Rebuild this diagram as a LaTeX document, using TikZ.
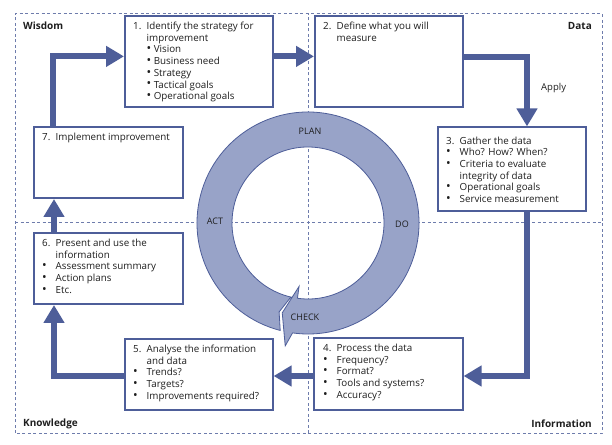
\documentclass[tikz,border=0pt]{standalone}
\usepackage{fontspec}
\setmainfont{Open Sans}
\usepackage{tikz}
\usetikzlibrary{calc}
\usetikzlibrary{positioning}
\usetikzlibrary{arrows.meta}

\definecolor{flowblue}{RGB}{78,94,153}
\definecolor{ringblue}{RGB}{152,163,200}
\definecolor{dashblue}{RGB}{110,124,172}
\definecolor{txtgray}{RGB}{30,30,30}

\newcommand{\itm}[2]{\makebox[13.5pt][l]{#1}#2}
\newcommand{\bul}{\raisebox{0.2pt}{\scalebox{1.25}{\textbullet}}}

\begin{document}
\begin{tikzpicture}[x=1pt,y=1pt,
    stepbox/.style={draw=flowblue,line width=1.6pt,fill=white,anchor=south west,inner sep=0pt},
    boxtext/.style={anchor=north west,align=left,inner sep=0pt,text=txtgray,font=\fontsize{9.8}{11.7}\selectfont},
    flow/.style={draw=flowblue,line width=6pt,-{Triangle[length=18pt,width=20pt]}},
    quad/.style={inner sep=0pt,text=txtgray,font=\fontsize{10}{12}\selectfont\bfseries},
    ringlabel/.style={inner sep=0pt,text=txtgray,font=\fontsize{9}{10}\selectfont},
    quadline/.style={draw=dashblue,line width=1pt,dash pattern=on 3pt off 2.5pt}]
      \useasboundingbox (0,0) rectangle (612,444);

      % quadrants
      \draw[quadline] (15,11) rectangle (602,430);
      \draw[quadline] (308,11) -- (308,430);
      \draw[quadline] (15,221) -- (602,221);
      \node[quad,anchor=west] (wisdom) at (23,418) {Wisdom};
      \node[quad,anchor=east] (data) at (592,418) {Data};
      \node[quad,anchor=west] (knowledge) at (23,20) {Knowledge};
      \node[quad,anchor=east] (information) at (592,20) {Information};

      % PDCA ring
      \begin{scope}[shift={(308,221)}]
        \filldraw[fill=ringblue,draw=flowblue,line width=0.8pt]
          (257:76) -- (252:93.5) -- (255.5:111)
          arc[start angle=255.5,end angle=-98,radius=111pt]
          -- (-100.5:125) -- (-106:93.5) -- (-98:64) -- (-98:76)
          arc[start angle=-98,end angle=257,radius=76pt] -- cycle;
      \end{scope}
      \node[ringlabel] (plan) at (310,313) {PLAN};
      \node[ringlabel] (do) at (402,220) {DO};
      \node[ringlabel] (act) at (215,223) {ACT};
      \node[ringlabel] (check) at (305,127) {CHECK};

      % steps
      \node[stepbox,minimum width=148pt,minimum height=91pt] (b1) at (124,336) {};
      \node[stepbox,minimum width=148pt,minimum height=91pt] (b2) at (314,336) {};
      \node[stepbox,minimum width=148pt,minimum height=84pt] (b3) at (437,232) {};
      \node[stepbox,minimum width=149pt,minimum height=72pt] (b4) at (313,33) {};
      \node[stepbox,minimum width=148pt,minimum height=71pt] (b5) at (124,33) {};
      \node[stepbox,minimum width=149pt,minimum height=71pt] (b6) at (33,139) {};
      \node[stepbox,minimum width=149pt,minimum height=71pt] (b7) at (33,245) {};

      \node[boxtext] (t1) at ($(b1.north west)+(9,-6.5)$) {\itm{1.}{Identify the strategy for}\\
        \itm{}{improvement}\\ \itm{}{\bul\ Vision}\\ \itm{}{\bul\ Business need}\\
        \itm{}{\bul\ Strategy}\\ \itm{}{\bul\ Tactical goals}\\ \itm{}{\bul\ Operational goals}};
      \node[boxtext] (t2) at ($(b2.north west)+(9,-6.5)$) {\itm{2.}{Define what you will}\\ \itm{}{measure}};
      \node[boxtext] (t3) at ($(b3.north west)+(9,-10)$) {\itm{3.}{Gather the data}\\
        \itm{\bul}{Who? How? When?}\\ \itm{\bul}{Criteria to evaluate}\\ \itm{}{integrity of data}\\
        \itm{\bul}{Operational goals}\\ \itm{\bul}{Service measurement}};
      \node[boxtext] (t4) at ($(b4.north west)+(10,-6.5)$) {\itm{4.}{Process the data}\\
        \itm{\bul}{Frequency?}\\ \itm{\bul}{Format?}\\ \itm{\bul}{Tools and systems?}\\
        \itm{\bul}{Accuracy?}};
      \node[boxtext] (t5) at ($(b5.north west)+(9,-6.5)$) {\itm{5.}{Analyse the information}\\
        \itm{}{and data}\\ \itm{\bul}{Trends?}\\ \itm{\bul}{Targets?}\\
        \itm{\bul}{Improvements required?}};
      \node[boxtext] (t6) at ($(b6.north west)+(9,-6.5)$) {\itm{6.}{Present and use the}\\
        \itm{}{information}\\ \itm{\bul}{Assessment summary}\\ \itm{\bul}{Action plans}\\
        \itm{\bul}{Etc.}};
      \node[boxtext] (t7) at ($(b7.north west)+(9,-6.5)$) {\itm{7.}{Implement improvement}};

      % flow between steps
      \draw[flow] ($(b7.north west)+(20,0)$) |- ($(b1.north west)+(0,-41)$);
      \draw[flow] ($(b1.north east)+(0,-41)$) -- ($(b2.north west)+(0,-41)$);
      \draw[flow] ($(b2.north east)+(0,-42)$) -| ($(b3.north west)+(90,0)$);
      \node[anchor=west,inner sep=0pt,text=txtgray,font=\fontsize{9.5}{11}\selectfont] (apply) at (541,356) {Apply};
      \draw[flow] ($(b3.south west)+(90,0)$) |- ($(b4.south east)+(0,35)$);
      \draw[flow] ($(b4.south west)+(0,35)$) -- ($(b5.south east)+(0,35)$);
      \draw[flow] ($(b5.south west)+(0,35)$) -| ($(b6.south west)+(21,0)$);
      \draw[flow] ($(b6.north west)+(21,0)$) -- ($(b7.south west)+(21,0)$);
    \end{tikzpicture}
\end{document}
